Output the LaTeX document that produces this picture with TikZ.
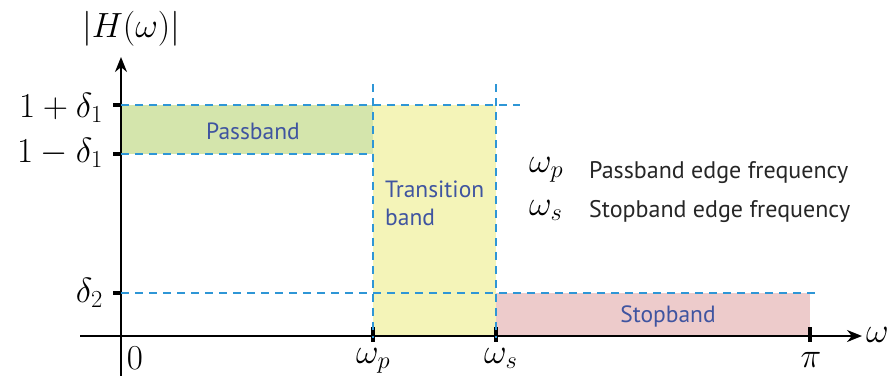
\documentclass[tikz,border=0pt]{standalone}
\usepackage{fix-cm}
\usepackage{fontspec}
\setsansfont{PT Sans}
\usetikzlibrary{arrows.meta}
\definecolor{guide}{RGB}{46,150,214}
\definecolor{bandtext}{RGB}{63,84,160}
\definecolor{passfill}{RGB}{212,229,172}
\definecolor{transfill}{RGB}{244,244,184}
\definecolor{stopfill}{RGB}{237,203,203}
\tikzset{
  axis/.style={line width=2pt,-{Stealth[length=15pt,width=12pt]}},
  guideline/.style={guide,line width=1.5pt,dash pattern=on 8pt off 6pt},
  tickmark/.style={line width=4.5pt},
  mathlbl/.style={font=\fontsize{35}{40}\selectfont,inner sep=0pt},
  bandlbl/.style={font=\sffamily\fontsize{23.5}{28}\selectfont,text=bandtext,inner sep=0pt},
  legendlbl/.style={font=\sffamily\fontsize{24}{28}\selectfont,text=black!85,inner sep=0pt,anchor=base west},
}
\begin{document}
\begin{tikzpicture}[x=1pt,y=-1pt]
\useasboundingbox (0,0) rectangle (891,376);
% key points
\coordinate (O) at (121,336);
\coordinate (ytop) at (121,57);
\coordinate (ybot) at (121,376);
\coordinate (xleft) at (80,336);
\coordinate (xright) at (862,336);
% shaded bands
\fill[passfill] (121,105) rectangle (373,154);
\fill[transfill] (373,105) rectangle (496,336);
\fill[stopfill] (496,293) rectangle (810,336);
% axes
\draw[line width=2pt] (O) -- (ybot);
\draw[axis] (O) -- (ytop);
\draw[line width=2pt] (xleft) -- (O);
\draw[axis] (O) -- (xright);
% ticks
\draw[tickmark] (113,105) -- (121,105);
\draw[tickmark] (113,154) -- (121,154);
\draw[tickmark] (113,293) -- (121,293);
\draw[tickmark] (373,327) -- (373,342);
\draw[tickmark] (496,327) -- (496,342);
\draw[tickmark] (810,327) -- (810,342);
% tolerance guides
\draw[guideline] (121,105) -- (520,105);
\draw[guideline] (121,154) -- (373,154);
\draw[guideline] (121,293) -- (815,293);
\draw[guideline] (373,84) -- (373,338);
\draw[guideline] (496,84) -- (496,338);
% axis labels
\node[mathlbl,anchor=base] (hlbl) at (131,37) {$|H(\omega)|$};
\node[mathlbl,anchor=base west] (wlbl) at (866,342) {$\omega$};
\node[mathlbl,anchor=base east] (up) at (103,117) {$1+\delta_1$};
\node[mathlbl,anchor=base east] (lo) at (103,162) {$1-\delta_1$};
\node[mathlbl,anchor=base east] (d2) at (103,302) {$\delta_2$};
\node[mathlbl,anchor=base] (zero) at (135,369) {$0$};
\node[mathlbl,anchor=base west] (wp) at (356,363) {$\omega_p$};
\node[mathlbl,anchor=base west] (ws) at (484,363) {$\omega_s$};
\node[mathlbl,anchor=base] (pi) at (811,367) {$\pi$};
% band names
\node[bandlbl] (pass) at (253,131) {Passband};
\node[bandlbl,align=left,anchor=north west] (trans) at (385,181) {Transition\\band};
\node[bandlbl] (stop) at (668,316) {Stopband};
% legend
\node[mathlbl,anchor=base west] (lwp) at (529,172) {$\omega_p$};
\node[mathlbl,anchor=base west] (lws) at (529,215) {$\omega_s$};
\node[legendlbl] (lwpt) at (589,178) {Passband edge frequency};
\node[legendlbl] (lwst) at (589,217) {Stopband edge frequency};
\end{tikzpicture}
\end{document}
